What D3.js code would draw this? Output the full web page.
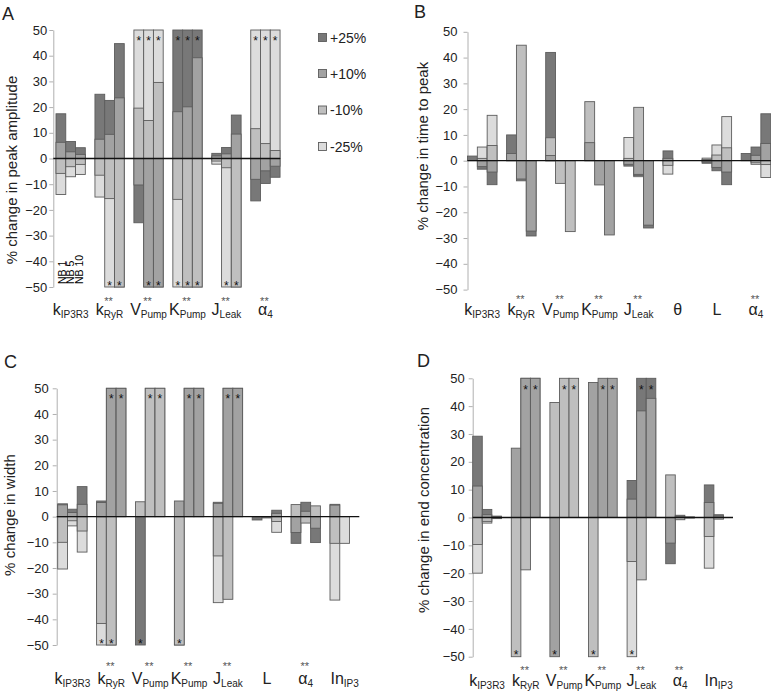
<!DOCTYPE html>
<html><head><meta charset="utf-8">
<script src="https://cdn.jsdelivr.net/npm/d3@7"></script>
<style>body{margin:0;background:#fff}svg{display:block;font-family:"Liberation Sans",Arial,sans-serif}</style>
</head><body>
<svg id="chart" width="771" height="691"></svg>
<script>
// ---------- data ----------
const seriesNames = ["+25%", "+10%", "-10%", "-25%"];
const nbLabels = ["NB 1", "NB 5", "NB 10"];
const starredCats = ["kRyR", "VPump", "KPump", "JLeak", "α4"];
const yTicks = [-50, -40, -30, -20, -10, 0, 10, 20, 30, 40, 50];

const catsA = ["kIP3R3", "kRyR", "VPump", "KPump", "JLeak", "α4"];
const catsB = ["kIP3R3", "kRyR", "VPump", "KPump", "JLeak", "θ", "L", "α4"];
const catsC = ["kIP3R3", "kRyR", "VPump", "KPump", "JLeak", "L", "α4", "InIP3"];
const catsD = ["kIP3R3", "kRyR", "VPump", "KPump", "JLeak", "α4", "InIP3"];

// values per category: NB1, NB5, NB10 (clipped at ±50 in the figure)
// A: % change in peak amplitude
const A_p25 = [17.4, 6.6, 4.2,  25, 22.6, 44.7,  -25, -50, -50,  50, 50, 50,  2.0, 4.3, 16.9,  -16.5, -9.7, -7.3];
const A_p10 = [6.3, 2.6, 1.6,  7.5, 9.4, 23.6,  -10.3, -50, -50,  18.2, 20.1, 39.2,  1.0, 1.8, 9.5,  -8.1, -4.8, -3.0];
const A_m10 = [-5.8, -3.2, -2.3,  -6.5, -15.6, -50,  19.6, 14.8, 29.6,  -15.9, -50, -50,  -1.0, -3.6, -50,  11.6, 5.8, 3.1];
const A_m25 = [-14.0, -7.1, -6.2,  -15, -50, -50,  50, 50, 50,  -50, -50, -50,  -2.2, -50, -50,  50, 50, 50];

// B: % change in time to peak
const B_p25 = [1.8, -3.3, -9.3,  10, -7.8, -29.2,  42, 0, 0,  0, 0, 0,  -2.1, -5.8, -26.1,  3.8, 0, 0,  -1.0, -3.9, -9.3,  2.8, 5.3, 18.2];
const B_p10 = [0, -2.3, -4.4,  2.8, -7.1, -27.3,  2.0, 0, 0,  7.0, -9.4, -28.8,  -1.4, -5.3, -25.0,  0.9, 0, 0,  -0.5, -2.6, -4.4,  0, 2.1, 6.7];
const B_m10 = [0, 0.9, 5.9,  0, 44.8, 0,  8.9, -8.8, -27.5,  22.9, 0, 0,  0.9, 20.7, 0,  -1.8, 0, 0,  0.5, 2.2, 5.0,  0, -0.8, -1.5];
const B_m25 = [0, 5.3, 17.6,  0, 0, 0,  0, 0, 0,  0, 0, 0,  9.0, -6.2, 0,  -5.2, 0, 0,  1.0, 6.1, 17.1,  0, -1.4, -6.5];

// C: % change in width
const C_p25 = [5.0, 2.9, 11.7,  6.1, 50, 50,  -50, 0, 0,  0, 50, 50,  5.6, 50, 50,  -1.3, -0.5, 2.5,  -10.4, 5.6, -10.1,  4.8, 0, 0];
const C_p10 = [4.6, 1.6, 4.8,  5.5, 50, 50,  0, 0, 0,  6.1, 50, 50,  5.2, 50, 50,  0, 0, 1.3,  -6.2, 2.1, -4.5,  4.5, 0, 0];
const C_m10 = [-10.0, -1.6, -5.6,  -41.6, -50, 0,  5.8, 50, 50,  -50, 0, 0,  -15.3, -32.2, 0,  0, 0, -1.9,  4.7, -2.5, 4.2,  -10.4, 0, 0];
const C_m25 = [-20.4, -3.6, -13.8,  -50, -50, 0,  0, 50, 50,  -50, 0, 0,  -33.5, 0, 0,  0, 0, -6.1,  0, 0, 0,  -32.5, -10.4, 0];

// D: % change in end concentration
const D_p25 = [29.2, 2.9, 0.5,  0, 50, 50,  0, 0, 0,  0, 0, 0,  13.3, 50, 50,  -16.6, 0.8, 0.2,  11.7, 1.0, 0];
const D_p10 = [11.3, 1.0, 0.3,  24.9, 50, 50,  -50, 0, 0,  48.5, 50, 50,  6.6, 38.3, 42.8,  -9.2, 0.4, 0.1,  5.4, 0.5, 0];
const D_m10 = [-9.7, -1.4, -0.3,  -50, -18.8, 0,  41.3, 50, 50,  -50, 0, 0,  -15.8, -22.4, 0,  15.3, -0.8, -0.2,  -6.8, -0.6, 0];
const D_m25 = [-20.0, -2.0, -0.4,  0, 0, 0,  0, 0, 0,  0, 0, 0,  -50, 0, 0,  0, 0, 0,  -18.2, 0, 0];

// label pieces (main letter + subscript)
const labelMain = {kIP3R3: "k", kRyR: "k", VPump: "V", KPump: "K", JLeak: "J", "α4": "α", "θ": "θ", L: "L", InIP3: "In"};
const labelSub  = {kIP3R3: "IP3R3", kRyR: "RyR", VPump: "Pump", KPump: "Pump", JLeak: "Leak", "α4": "4", "θ": "", L: "", InIP3: "IP3"};

// ---------- styles ----------
const fills = ["#787878", "#a2a2a2", "#bfbfbf", "#dcdcdc"];
const strokeCol = "#5c5c5c";

const svg = d3.select("#chart");

function drawPanel(cfg, cats, vals) {
  const g = svg.append("g");
  const p = 1 - cfg.band / cfg.step;
  const x = d3.scaleBand().domain(cats)
    .range([cfg.gx - p / 2 * cfg.step, cfg.gx - p / 2 * cfg.step + cats.length * cfg.step])
    .paddingInner(p).paddingOuter(p / 2);
  const xs = d3.scaleBand().domain(nbLabels).range([0, x.bandwidth()]);
  const y = d3.scaleLinear().domain([-50, 50]).range([cfg.yBot, cfg.yTop]);

  // axis
  const ax = g.append("g").attr("transform", `translate(${cfg.ax},0)`)
    .call(d3.axisLeft(y).tickValues(yTicks).tickSize(4).tickSizeOuter(0).tickPadding(cfg.tickPad));
  ax.select(".domain").attr("stroke", "#b0b0b0");
  ax.selectAll(".tick line").attr("stroke", "#b0b0b0");
  ax.selectAll(".tick text").attr("font-size", 13).attr("fill", "#222")
    .attr("font-family", '"Liberation Sans", Arial, sans-serif');

  // bars
  cats.forEach((c, i) => {
    nbLabels.forEach((nb, j) => {
      const items = vals.map((arr, k) => ({k, v: arr[i * 3 + j], lvl: (k === 0 || k === 3) ? 0 : 1}))
        .filter(d => d.v !== 0);
      items.sort((a, b) => (Math.abs(b.v) - Math.abs(a.v)) || (a.lvl - b.lvl));
      const bx = x(c) + xs(nb);
      items.forEach(d => {
        const v = Math.max(-50, Math.min(50, d.v));
        g.append("rect")
          .attr("x", bx).attr("width", xs.bandwidth())
          .attr("y", Math.min(y(0), y(v))).attr("height", Math.abs(y(v) - y(0)))
          .attr("fill", fills[d.k]).attr("stroke", strokeCol).attr("stroke-width", 0.9);
      });
      const vs = vals.map(arr => arr[i * 3 + j]);
      if (d3.max(vs) >= 50) {
        g.append("text").attr("x", bx + xs.bandwidth() / 2).attr("y", y(46.8) + 6.5)
          .attr("text-anchor", "middle").attr("font-size", 12).attr("fill", "#111").text("*");
      }
      if (d3.min(vs) <= -50) {
        g.append("text").attr("x", bx + xs.bandwidth() / 2).attr("y", y(-48.5) + 6.5)
          .attr("text-anchor", "middle").attr("font-size", 12).attr("fill", "#111").text("*");
      }
    });
  });

  // zero line
  g.append("line").attr("x1", cfg.ax).attr("x2", x(cats[cats.length - 1]) + x.bandwidth())
    .attr("y1", y(0)).attr("y2", y(0)).attr("stroke", "#111").attr("stroke-width", 1.3);

  // category labels
  cats.forEach(c => {
    const cx = x(c) + x.bandwidth() / 2;
    const t = g.append("text").attr("x", cx).attr("y", cfg.labelY)
      .attr("text-anchor", "middle").attr("fill", "#222");
    t.append("tspan").attr("font-size", 16).text(labelMain[c]);
    if (labelSub[c]) t.append("tspan").attr("font-size", 10).attr("dy", 2.5).text(labelSub[c]);
    if (starredCats.includes(c)) {
      g.append("text").attr("x", cx - 1).attr("y", cfg.starY).attr("text-anchor", "middle")
        .attr("font-size", 11).attr("fill", "#555").text("**");
    }
  });

  // y title
  g.append("text").attr("transform", `translate(${cfg.titleX},${cfg.titleY}) rotate(-90)`)
    .attr("text-anchor", "middle").attr("font-size", 15).attr("fill", "#222").text(cfg.title);
  // panel letter
  g.append("text").attr("x", cfg.letterX).attr("y", cfg.letterY).attr("font-size", 18)
    .attr("fill", "#222").text(cfg.letter);

  return {x, xs, y};
}

const sA = drawPanel({ax: 53.3, yTop: 30, yBot: 287, gx: 56, step: 38.95, band: 29.3, tickPad: 2,
  labelY: 315, starY: 305, title: "% change in peak amplitude", titleX: 17, titleY: 170,
  letter: "A", letterX: 2, letterY: 20}, catsA, [A_p25, A_p10, A_m10, A_m25]);

drawPanel({ax: 467.5, yTop: 31.8, yBot: 289.6, gx: 467.5, step: 39.1, band: 29.5, tickPad: 6,
  labelY: 315, starY: 303, title: "% change in time to peak", titleX: 428, titleY: 146,
  letter: "B", letterX: 414, letterY: 18}, catsB, [B_p25, B_p10, B_m10, B_m25]);

drawPanel({ax: 56.7, yTop: 388.3, yBot: 645, gx: 57.7, step: 38.9, band: 29.3, tickPad: 4,
  labelY: 684, starY: 670, title: "% change in width", titleX: 15, titleY: 515,
  letter: "C", letterX: 4, letterY: 368}, catsC, [C_p25, C_p10, C_m10, C_m25]);

drawPanel({ax: 472.7, yTop: 378.3, yBot: 656.7, gx: 472.7, step: 38.6, band: 28.7, tickPad: 4,
  labelY: 686, starY: 674, title: "% change in end concentration", titleX: 429, titleY: 510,
  letter: "D", letterX: 417, letterY: 367}, catsD, [D_p25, D_p10, D_m10, D_m25]);

// NB labels (panel A, first group), packed at the bottom of the first group
nbLabels.forEach((nb, j) => {
  const cx = sA.x(catsA[0]) + 5.5 + j * 8.5 + 4;
  svg.append("text").attr("transform", `translate(${cx},284) rotate(-90)`)
    .attr("font-size", 10.5).attr("fill", "#000").text(nb);
});

// legend (panel A)
const legY = [37.5, 73.5, 110, 146.5];
seriesNames.forEach((s, k) => {
  svg.append("rect").attr("x", 318.5).attr("y", legY[k] - 4).attr("width", 8).attr("height", 8)
    .attr("fill", fills[k]).attr("stroke", strokeCol).attr("stroke-width", 0.9);
  svg.append("text").attr("x", 330).attr("y", legY[k] + 5).attr("font-size", 14)
    .attr("fill", "#222").text(s);
});
</script>
</body></html>
